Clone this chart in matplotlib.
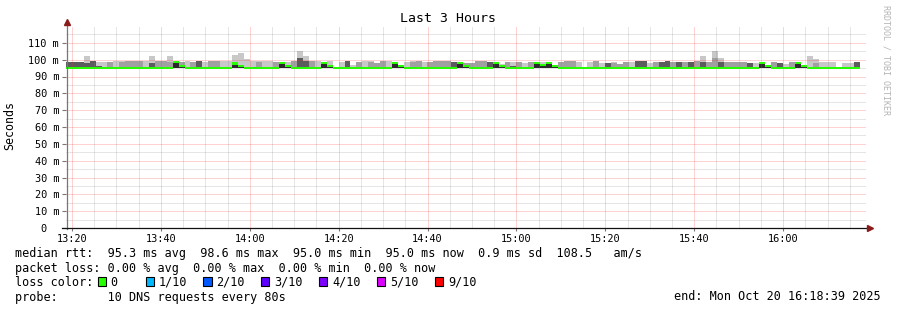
import numpy as np
import matplotlib.pyplot as plt
from matplotlib.lines import Line2D
from matplotlib.patches import Rectangle

plt.rcParams['font.family'] = ['DejaVu Sans Mono', 'DejaVu Sans']

W, H = 897, 310

# time axis: minutes after 13:00, 80 s steps, window ends 16:18:39
start_min = 18 + 39 / 60
step_min = 80 / 60
end_min = start_min + 180

smoke_base = 95.0

median = [
    95.0, 95.0, 95.0, 95.0, 95.0, 95.0, 95.0, 95.0, 95.0, 95.0,
    95.0, 95.0, 95.0, 95.0, 95.0, 95.0, 95.0, 95.0, 98.6, 96.3,
    95.0, 95.0, 95.0, 95.0, 95.0, 95.0, 95.0, 95.0, 97.7, 96.3,
    95.0, 95.0, 95.0, 95.0, 95.0, 95.0, 98.2, 96.3, 95.0, 95.0,
    95.0, 95.0, 95.0, 98.2, 96.3, 95.0, 95.0, 95.0, 95.0, 95.0,
    95.0, 95.0, 95.0, 95.0, 95.0, 98.2, 96.3, 95.0, 95.0, 95.0,
    95.0, 95.0, 95.0, 95.0, 95.0, 95.0, 98.2, 96.3, 95.0, 95.0,
    95.0, 95.0, 98.2, 96.3, 95.0, 95.0, 95.0, 95.0, 95.0, 98.2,
    96.6, 98.2, 96.3, 95.0, 95.0, 95.0, 95.0, 95.0, 95.0, 95.0,
    95.0, 95.0, 95.0, 95.0, 95.0, 95.0, 95.0, 95.0, 95.0, 95.0,
    95.0, 95.0, 95.0, 95.0, 95.0, 95.0, 95.0, 95.0, 95.0, 95.0,
    95.0, 95.0, 95.0, 95.0, 95.0, 95.0, 95.0, 98.2, 96.3, 95.0,
    95.0, 95.0, 95.0, 98.2, 96.3, 95.0, 95.0, 95.0, 95.0, 95.0,
    95.0, 95.0, 95.0, 95.0,
]

# tops of the smoke bands (ms), darkest band nearest the median
dark_top = [
    98.8, 98.8, 98.8, 98.0, 99.2, 96.3, 95.0, 95.0, 95.0, 95.0,
    95.0, 95.0, 95.0, 95.0, 98.0, 95.0, 95.0, 95.0, 95.0, 95.0,
    95.0, 95.0, 99.0, 95.0, 95.0, 95.0, 95.0, 95.0, 95.0, 95.0,
    95.0, 95.0, 95.0, 95.0, 95.0, 95.0, 95.0, 95.0, 95.0, 100.8,
    99.0, 95.0, 95.0, 95.0, 95.0, 95.0, 95.0, 99.0, 95.0, 95.0,
    95.0, 95.0, 95.0, 95.0, 95.0, 95.0, 95.0, 95.0, 95.0, 95.0,
    95.0, 95.0, 95.0, 95.0, 95.0, 98.7, 95.0, 95.0, 95.0, 95.0,
    95.0, 98.7, 95.0, 95.0, 95.0, 96.0, 95.0, 95.0, 95.0, 95.0,
    95.0, 95.0, 95.0, 95.0, 95.0, 95.0, 95.0, 95.0, 95.0, 95.0,
    95.0, 98.1, 95.0, 95.0, 95.0, 95.0, 99.3, 99.3, 95.0, 95.0,
    98.7, 99.3, 95.0, 98.7, 95.0, 98.7, 95.0, 98.7, 95.0, 95.0,
    98.7, 95.0, 95.0, 95.0, 95.0, 98.1, 95.0, 95.0, 97.0, 95.0,
    98.1, 95.0, 95.0, 95.0, 95.0, 95.0, 95.0, 95.0, 95.0, 95.0,
    95.0, 95.0, 95.0, 98.7,
]

mid_top = [
    98.8, 98.8, 98.8, 98.0, 99.2, 96.3, 95.0, 98.5, 95.0, 98.7,
    99.0, 99.0, 99.0, 95.0, 98.0, 99.5, 99.3, 98.5, 95.0, 98.8,
    95.0, 98.5, 99.0, 95.0, 99.0, 99.5, 95.0, 95.0, 95.0, 95.0,
    95.0, 95.0, 98.7, 95.0, 95.0, 98.5, 95.0, 95.0, 99.0, 100.8,
    99.0, 99.0, 95.0, 95.0, 95.0, 95.0, 95.0, 99.0, 95.0, 98.5,
    95.0, 98.7, 98.1, 99.3, 95.0, 95.0, 95.0, 95.0, 98.7, 99.3,
    95.0, 98.7, 99.3, 99.3, 99.3, 98.7, 95.0, 98.0, 98.1, 99.3,
    99.3, 98.7, 95.0, 95.0, 98.7, 96.0, 98.7, 95.0, 98.7, 95.0,
    95.0, 95.0, 95.0, 98.7, 99.3, 99.3, 95.0, 95.0, 95.0, 99.3,
    95.0, 98.1, 97.8, 97.7, 98.7, 95.0, 99.3, 99.3, 95.0, 98.7,
    98.7, 99.3, 98.7, 98.7, 98.7, 98.7, 99.3, 98.7, 98.7, 100.7,
    98.7, 98.7, 98.7, 98.7, 98.7, 98.1, 95.0, 95.0, 97.0, 98.7,
    98.1, 95.0, 98.7, 95.0, 95.0, 95.0, 98.1, 95.0, 95.0, 95.0,
    95.0, 95.0, 95.0, 98.7,
]

light_top = [
    98.8, 98.8, 98.8, 102.1, 99.2, 98.7, 98.8, 98.5, 99.0, 99.0,
    99.0, 99.0, 99.0, 99.0, 102.1, 99.5, 99.5, 102.1, 99.5, 98.8,
    99.0, 98.5, 99.0, 98.5, 99.0, 99.5, 99.0, 99.0, 102.5, 104.0,
    100.2, 99.0, 99.0, 99.0, 99.0, 98.5, 98.2, 98.5, 99.0, 105.0,
    102.0, 99.0, 99.0, 98.2, 99.0, 95.0, 98.5, 99.0, 97.0, 98.5,
    99.3, 99.3, 98.1, 99.3, 99.3, 98.7, 95.0, 98.7, 99.0, 99.3,
    98.7, 98.7, 99.3, 99.3, 99.3, 98.7, 98.2, 98.0, 98.1, 99.3,
    99.3, 98.7, 98.2, 97.5, 98.7, 98.7, 98.7, 98.1, 98.7, 98.2,
    98.7, 98.2, 95.0, 98.7, 99.3, 99.3, 98.7, 95.0, 98.7, 99.3,
    98.1, 98.1, 98.7, 97.7, 98.7, 98.7, 99.3, 99.3, 98.1, 98.7,
    98.7, 99.3, 98.7, 98.7, 98.7, 98.7, 99.3, 102.1, 98.7, 105.0,
    100.7, 98.7, 98.7, 98.7, 98.7, 98.1, 98.1, 98.7, 97.0, 98.7,
    98.1, 97.7, 98.7, 98.2, 95.0, 102.1, 100.1, 98.7, 98.7, 98.7,
    95.0, 98.1, 98.1, 98.7,
]

x_major = [20, 40, 60, 80, 100, 120, 140, 160, 180]
x_labels = ["13:20", "13:40", "14:00", "14:20", "14:40", "15:00", "15:20", "15:40", "16:00"]
y_major = [0, 10, 20, 30, 40, 50, 60, 70, 80, 90, 100, 110]
y_labels = ["0  ", "10 m", "20 m", "30 m", "40 m", "50 m", "60 m", "70 m", "80 m",
            "90 m", "100 m", "110 m"]

loss_labels = ["0", "1/10", "2/10", "3/10", "4/10", "5/10", "9/10"]
loss_colors = ["#26ff00", "#00b8ff", "#0059ff", "#5e00ff", "#7e00ff", "#dd00ff", "#ff0000"]

legend_lines = [
    "median rtt:  95.3 ms avg  98.6 ms max  95.0 ms min  95.0 ms now  0.9 ms sd  108.5   am/s",
    "packet loss: 0.00 % avg  0.00 % max  0.00 % min  0.00 % now",
    "loss color:",
    "probe:       10 DNS requests every 80s",
]
end_text = "end: Mon Oct 20 16:18:39 2025"


def fx(px):
    return px / W


def fy(py):
    return 1 - py / H


fig = plt.figure(figsize=(W / 100, H / 100), dpi=100)
fig.patch.set_facecolor("white")

ax = fig.add_axes([fx(66), fy(228), 800 / W, 202 / H])
ax.set_xlim(start_min, end_min)
ax.set_ylim(0, 120)

n = len(median)
edges = start_min + step_min * np.arange(n + 1)
med = np.array(median)

ax.stairs(light_top, edges, baseline=smoke_base, fill=True, color="#c8c8c8", lw=0, zorder=1.0)
ax.stairs(mid_top, edges, baseline=smoke_base, fill=True, color="#a0a0a0", lw=0, zorder=1.1)
ax.stairs(dark_top, edges, baseline=smoke_base, fill=True, color="#5c5c5c", lw=0, zorder=1.2)
ax.stairs(np.maximum(med, smoke_base), edges, baseline=smoke_base, fill=True,
          color="#2a2a2a", lw=0, zorder=1.3)
ax.stairs(med + 0.65, edges, baseline=med - 0.65, fill=True, color="#26ff00", lw=0, zorder=2.6)

# grid
ax.set_xticks(x_major)
ax.set_xticklabels(x_labels)
ax.set_xticks(np.arange(20, 200, 5), minor=True)
ax.set_yticks(y_major)
ax.set_yticklabels(y_labels)
ax.set_yticks(np.arange(5, 120, 10), minor=True)
ax.set_axisbelow(False)
ax.grid(which="minor", color="#808080", alpha=0.4, linestyle=(0, (1, 1)), linewidth=0.72)
ax.grid(which="major", color="#ff2020", alpha=0.4, linestyle=(0, (1, 1)), linewidth=0.72)

for s in ax.spines.values():
    s.set_visible(False)

ax.tick_params(axis="both", which="minor", length=0)
ax.tick_params(axis="y", which="major", length=3, width=0.8, color="#777777",
               pad=2, labelsize=7.4)
ax.tick_params(axis="x", which="major", length=2, width=0.8, color="#777777",
               pad=2.5, labelsize=7.4)

# axes with arrows
fig.add_artist(Line2D([fx(67), fx(67)], [fy(229), fy(23)], color="#777777", lw=0.9))
fig.add_artist(Line2D([fx(62), fx(869)], [fy(228), fy(228)], color="#111111", lw=0.9))
fig.add_artist(Line2D([fx(67)], [fy(22)], marker="^", markersize=4, color="#8b1a1a", lw=0))
fig.add_artist(Line2D([fx(870)], [fy(228)], marker=">", markersize=4, color="#8b1a1a", lw=0))

fig.text(fx(448), fy(19), "Last 3 Hours", ha="center", va="center", fontsize=9.5)
fig.text(fx(10), fy(126), "Seconds", ha="center", va="center", rotation=90, fontsize=8.4)
fig.text(fx(886), fy(60), "RRDTOOL / TOBI OETIKER", ha="center", va="center",
         rotation=270, fontsize=6, color="#b4b4b4")

row_y = [253.5, 268.5, 282, 297]
for txt, ry in zip(legend_lines, row_y):
    fig.text(fx(15), fy(ry), txt, ha="left", va="center", fontsize=8.5)
fig.text(fx(881), fy(row_y[3]), end_text, ha="right", va="center", fontsize=8.5)

box_x = [97.7, 145.7, 203.3, 261, 319, 376.7, 435]
for bx, lab, col in zip(box_x, loss_labels, loss_colors):
    fig.add_artist(Rectangle((fx(bx), fy(286)), 8.3 / W, 8.7 / H, facecolor=col,
                             edgecolor="black", lw=0.8))
    fig.text(fx(bx + 13), fy(row_y[2]), lab, ha="left", va="center", fontsize=8.5)

fig.savefig("out.png", dpi=100)
